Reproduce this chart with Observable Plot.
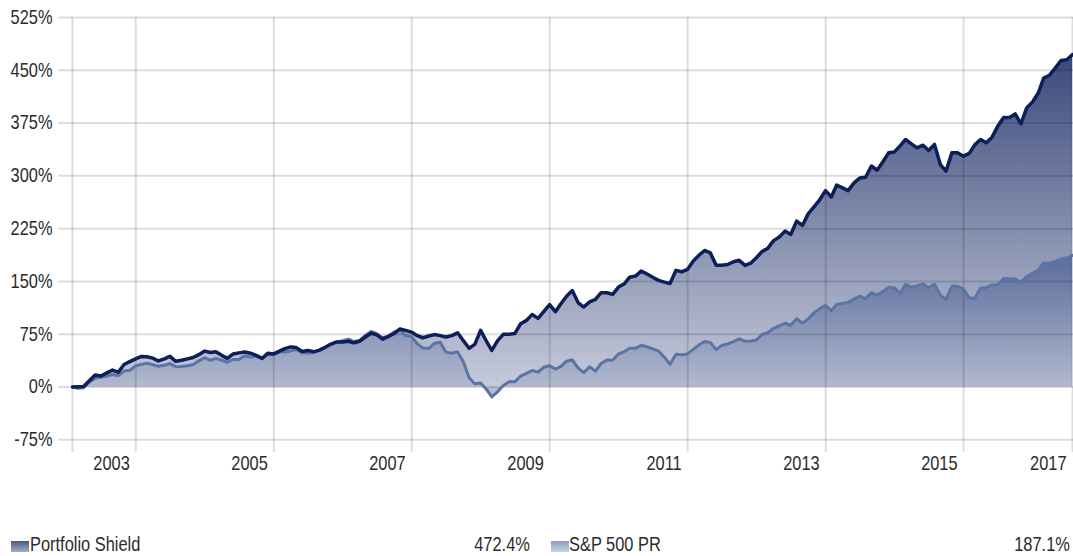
<!DOCTYPE html>
<html>
<head>
<meta charset="utf-8">
<script src="https://cdn.jsdelivr.net/npm/d3@7"></script>
<script src="https://cdn.jsdelivr.net/npm/@observablehq/plot@0.6"></script>
<style>
  html, body { margin: 0; padding: 0; background: #fff; }
  #wrap { position: relative; width: 1073px; height: 556px; overflow: hidden;
          font-family: "Liberation Sans", Arial, sans-serif; color: #2b2b2b; }
  .sw { position: absolute; top: 541px; width: 18px; height: 11px; }
  .lt { position: absolute; top: 534px; font-size: 20px; line-height: 20px; white-space: nowrap;
        transform: scaleX(0.82); }
</style>
</head>
<body>
<div id="wrap"><div id="chart"></div></div>
<script>
// ---- data (cumulative growth, %, month-end observations starting Jan 2003) ----
const firstMonth = [2003, 0];
const portfolio = [
  0, 0.3, 0.8, 9, 17, 15.6, 20, 24, 21, 32, 36, 40,
  43.5, 43, 41, 37, 40, 43.6, 36.5, 38, 40, 42, 46, 51,
  49, 50, 45, 40.7, 47, 48.5, 49.7, 48, 45, 40.5, 48, 47,
  51, 54.5, 57, 56, 50.5, 52, 50, 52.5, 56.5, 61, 64, 64,
  65, 62.8, 65, 71, 76.5, 74, 68, 72, 76, 82.5, 80.5, 78,
  73, 70, 72.5, 74.5, 73, 71, 73, 77, 66, 55, 60.6, 80.5,
  65, 52, 66, 74.8, 75, 76, 90, 94.7, 103, 97.5, 107, 117,
  107, 118, 129, 137, 120, 113.6, 121, 124.5, 134, 134, 131.6, 142,
  146.7, 156, 157.6, 164.7, 160.5, 156, 151.5, 149, 147, 165.7, 163.7, 167,
  179, 187, 194, 190.7, 173, 173, 174, 178, 180, 172.8, 176, 184,
  193, 197, 208, 213, 221.5, 216.8, 235.7, 229.6, 246, 256, 266, 279,
  270, 287, 283, 279, 290, 297, 298, 314, 308, 320, 332.7, 334,
  343, 351.7, 345.5, 339.8, 343.6, 336, 344.6, 316, 306.7, 332.7, 332.7, 328,
  332, 344, 351.7, 347, 355, 370.6, 383, 383, 388, 374, 396.6, 405,
  418, 439, 443, 453, 464, 465, 472.4
];
const sp500 = [
  0, -1.7, -0.9, 7.2, 12.6, 13.9, 15.7, 17.8, 16.4, 22.8, 23.7, 29.9,
  32.2, 33.8, 31.6, 29.4, 31.0, 33.3, 28.8, 29.0, 30.3, 32.1, 37.2, 41.6,
  38.0, 40.7, 38.0, 35.2, 39.2, 39.2, 44.2, 42.6, 43.6, 41.1, 46.0, 45.9,
  49.6, 49.7, 51.3, 53.2, 48.4, 48.4, 49.2, 52.4, 56.1, 61.0, 63.7, 65.7,
  68.1, 64.4, 66.0, 73.2, 78.9, 75.7, 70.1, 72.3, 78.4, 81.1, 73.1, 71.6,
  61.1, 55.5, 54.6, 61.9, 63.7, 49.6, 48.1, 49.9, 36.3, 13.2, 4.7, 5.6,
  -3.5, -14.1, -6.8, 2.0, 7.4, 7.4, 15.4, 19.3, 23.5, 21.1, 28.0, 30.3,
  25.5, 29.1, 36.7, 38.7, 27.3, 20.5, 28.7, 22.6, 33.4, 38.3, 38.0, 47.0,
  50.3, 55.1, 54.9, 59.4, 57.2, 54.3, 51.0, 42.4, 32.2, 46.5, 45.7, 47.0,
  53.4, 59.6, 64.6, 63.4, 53.1, 59.2, 61.2, 64.4, 68.4, 65.0, 65.5, 66.7,
  75.1, 77.0, 83.4, 86.7, 90.6, 87.7, 97.0, 90.8, 96.5, 105.3, 111.0, 116.0,
  108.3, 117.3, 118.8, 120.2, 124.8, 129.1, 125.6, 134.1, 130.5, 135.8, 141.6, 140.6,
  133.1, 145.9, 141.7, 143.7, 146.3, 141.1, 145.9, 130.5, 124.4, 143.0, 143.1, 138.9,
  126.7, 125.8, 140.7, 141.4, 145.1, 145.3, 154.0, 153.7, 153.4, 148.5, 157.0, 161.6,
  166.3, 176.2, 176.1, 178.6, 181.9, 183.2, 187.1
];
const seriesNames = ["Portfolio Shield", "S&P 500 PR"];
const seriesTotals = ["472.4%", "187.1%"];
const yTicks = [-75, 0, 75, 150, 225, 300, 375, 450, 525];
const xTickLabels = ["2003", "2005", "2007", "2009", "2011", "2013", "2015", "2017"];
const xTickYears = [2004, 2006, 2008, 2010, 2012, 2014, 2016];

// ---- build table ----
const monthEnd = i => d3.utcDay.offset(d3.utcMonth.offset(new Date(Date.UTC(firstMonth[0], firstMonth[1], 1)), i + 1), -1);
const rows = portfolio.map((p, i) => ({date: monthEnd(i), port: p, sp: sp500[i]}));
const firstDate = rows[0].date, lastDate = rows[rows.length - 1].date;
const tickDates = xTickYears.map(y => new Date(Date.UTC(y, 0, 1))).concat([lastDate]);
const labelOf = new Map(tickDates.map((d, i) => [+d, xTickLabels[i]]));
const gridDates = [firstDate].concat(tickDates);

const FONT = '"Liberation Sans", Arial, sans-serif';
const gridStyle = {stroke: "#000", strokeOpacity: 0.135, strokeWidth: 2};

const chart = Plot.plot({
  width: 1073,
  height: 480,
  marginLeft: 58,
  marginRight: 0,
  marginTop: 17,
  marginBottom: 40.7,
  x: {type: "utc", domain: [new Date(Date.UTC(2002, 10, 18)), new Date(Date.UTC(2017, 7, 5))]},
  y: {domain: [-75, 525]},
  style: {fontFamily: FONT, fontSize: "20px", color: "#2b2b2b", background: "transparent", overflow: "visible"},
  marks: [
    Plot.areaY(rows, {x: "date", y: "port", fill: "url(#gradPort)"}),
    Plot.areaY(rows, {x: "date", y: "sp", fill: "url(#gradSp)"}),
    Plot.ruleY(yTicks, gridStyle),
    Plot.ruleX(gridDates, {...gridStyle, y1: -93, y2: 525}),
    Plot.lineY(rows, {x: "date", y: "sp", stroke: "#5a74a4", strokeWidth: 3, strokeLinejoin: "round"}),
    Plot.lineY(rows, {x: "date", y: "port", stroke: "#0d1e5b", strokeWidth: 3.5, strokeLinejoin: "round"}),
    Plot.axisY(yTicks, {tickFormat: d => d + "%", tickSize: 0, tickPadding: 6, fontSize: 20, label: null}),
    Plot.axisX(tickDates, {tickFormat: d => labelOf.get(+d), tickSize: 0, tickPadding: 16, textAnchor: "end", dx: -6, fontSize: 20, label: null})
  ]
});
chart.insertAdjacentHTML("afterbegin",
  '<defs>' +
  '<linearGradient id="gradPort" x1="0" y1="0" x2="0" y2="1">' +
    '<stop offset="0" stop-color="#3b4a7b"/><stop offset="1" stop-color="#c6cadb"/></linearGradient>' +
  '<linearGradient id="gradSp" x1="0" y1="0" x2="0" y2="1">' +
    '<stop offset="0" stop-color="#5a6b9b"/><stop offset="1" stop-color="#b8bfd3"/></linearGradient>' +
  '</defs>');
// condense the axis labels horizontally around their anchor (narrow typeface look)
chart.querySelectorAll("text").forEach(t => {
  const x = parseFloat(t.getAttribute("x") || 0);
  const prev = t.getAttribute("transform") || "";
  t.setAttribute("transform", `${prev} translate(${x},0) scale(0.82,1) translate(${-x},0)`.trim());
});
document.getElementById("chart").appendChild(chart);

// ---- legend ----
const wrap = document.getElementById("wrap");
const legendSpec = [
  {sw: 11, text: 30, valRight: 543, grad: "linear-gradient(#4a5886, #a5aec8)"},
  {sw: 551, text: 569, valRight: 3, grad: "linear-gradient(#8c9dc3, #c8d0e3)"}
];
legendSpec.forEach((s, i) => {
  const sw = document.createElement("div");
  sw.className = "sw"; sw.style.left = s.sw + "px"; sw.style.background = s.grad;
  const t = document.createElement("div");
  t.className = "lt"; t.style.left = s.text + "px"; t.style.transformOrigin = "left center";
  t.textContent = seriesNames[i];
  const v = document.createElement("div");
  v.className = "lt"; v.style.right = s.valRight + "px"; v.style.transformOrigin = "right center";
  v.textContent = seriesTotals[i];
  wrap.append(sw, t, v);
});
</script>
</body>
</html>
